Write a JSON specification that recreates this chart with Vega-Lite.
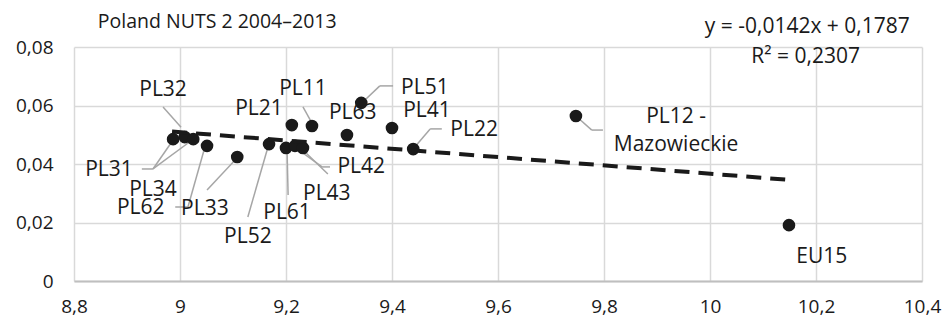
{
  "$schema": "https://vega.github.io/schema/vega-lite/v6.json",
  "width": 848,
  "height": 234,
  "autosize": {"type": "none"},
  "padding": {"left": 74, "top": 47, "right": 22, "bottom": 41},
  "background": "white",
  "datasets": {
    "points": [
      {"region": "PL31", "x": 8.987, "y": 0.0485},
      {"region": "PL32", "x": 9.009, "y": 0.0492},
      {"region": "PL34", "x": 9.025, "y": 0.0485},
      {"region": "PL62", "x": 9.051, "y": 0.0462},
      {"region": "PL33", "x": 9.108, "y": 0.0424},
      {"region": "PL52", "x": 9.168, "y": 0.0468},
      {"region": "PL21", "x": 9.211, "y": 0.0533},
      {"region": "PL11", "x": 9.249, "y": 0.053},
      {"region": "PL61", "x": 9.2, "y": 0.0455},
      {"region": "PL42", "x": 9.217, "y": 0.0462},
      {"region": "PL43", "x": 9.232, "y": 0.0455},
      {"region": "PL63", "x": 9.315, "y": 0.0499},
      {"region": "PL51", "x": 9.342, "y": 0.0609},
      {"region": "PL41", "x": 9.4, "y": 0.0523},
      {"region": "PL22", "x": 9.44, "y": 0.0451},
      {"region": "PL12", "x": 9.747, "y": 0.0564},
      {"region": "EU15", "x": 10.149, "y": 0.0191}
    ],
    "labels": [
      {"label": "PL32", "lx": 8.968, "ly": 0.0653},
      {"label": "PL31", "lx": 8.866, "ly": 0.0379},
      {"label": "PL34", "lx": 8.949, "ly": 0.0311},
      {"label": "PL62", "lx": 8.926, "ly": 0.025},
      {"label": "PL33", "lx": 9.047, "ly": 0.0246},
      {"label": "PL52", "lx": 9.128, "ly": 0.015},
      {"label": "PL61", "lx": 9.202, "ly": 0.0232},
      {"label": "PL43", "lx": 9.277, "ly": 0.0297},
      {"label": "PL42", "lx": 9.342, "ly": 0.039},
      {"label": "PL21", "lx": 9.149, "ly": 0.0588},
      {"label": "PL11", "lx": 9.232, "ly": 0.0656},
      {"label": "PL63", "lx": 9.326, "ly": 0.0574},
      {"label": "PL51", "lx": 9.462, "ly": 0.066},
      {"label": "PL41", "lx": 9.466, "ly": 0.0581},
      {"label": "PL22", "lx": 9.555, "ly": 0.0516},
      {"label": "PL12 -", "lx": 9.936, "ly": 0.0561},
      {"label": "Mazowieckie", "lx": 9.936, "ly": 0.0465},
      {"label": "EU15", "lx": 10.211, "ly": 0.0082}
    ],
    "leaders": [
      {"x": 8.968, "y": 0.0595, "x2": 9.002, "y2": 0.0526},
      {"x": 8.928, "y": 0.0383, "x2": 8.949, "y2": 0.0383},
      {"x": 8.949, "y": 0.0383, "x2": 8.987, "y2": 0.0482},
      {"x": 8.949, "y": 0.0383, "x2": 9.023, "y2": 0.0482},
      {"x": 8.991, "y": 0.0253, "x2": 9.015, "y2": 0.0253},
      {"x": 9.015, "y": 0.0253, "x2": 9.047, "y2": 0.0458},
      {"x": 9.051, "y": 0.0311, "x2": 9.104, "y2": 0.0414},
      {"x": 9.128, "y": 0.0219, "x2": 9.166, "y2": 0.0458},
      {"x": 9.204, "y": 0.0294, "x2": 9.202, "y2": 0.0448},
      {"x": 9.279, "y": 0.0366, "x2": 9.232, "y2": 0.0448},
      {"x": 9.268, "y": 0.039, "x2": 9.283, "y2": 0.039},
      {"x": 9.268, "y": 0.039, "x2": 9.211, "y2": 0.0465},
      {"x": 9.232, "y": 0.0595, "x2": 9.249, "y2": 0.054},
      {"x": 9.377, "y": 0.0667, "x2": 9.402, "y2": 0.0667},
      {"x": 9.377, "y": 0.0667, "x2": 9.345, "y2": 0.0612},
      {"x": 9.472, "y": 0.052, "x2": 9.494, "y2": 0.052},
      {"x": 9.472, "y": 0.052, "x2": 9.443, "y2": 0.0458},
      {"x": 9.747, "y": 0.0564, "x2": 9.777, "y2": 0.0516},
      {"x": 9.777, "y": 0.0516, "x2": 9.798, "y2": 0.0516}
    ],
    "trend": [
      {"x": 8.985, "y": 0.0511},
      {"x": 10.147, "y": 0.0346}
    ],
    "notes": [
      {"text": "y = -0,0142x + 0,1787", "nx": 10.377, "ny": 0.0868},
      {"text": "R² = 0,2307", "nx": 10.283, "ny": 0.0766}
    ],
    "heading": [
      {"text": "Poland NUTS 2 2004–2013", "nx": 8.845, "ny": 0.0886}
    ]
  },
  "config": {
    "view": {"stroke": null},
    "font": "Open Sans",
    "axis": {
      "grid": true,
      "gridColor": "#d9d9d9",
      "gridWidth": 1.5,
      "ticks": false,
      "labelFont": "Open Sans",
      "labelFontSize": 19,
      "labelColor": "#1a1a1a",
      "labelFlush": false,
      "title": null
    }
  },
  "encoding": {
    "x": {
      "type": "quantitative",
      "scale": {"domain": [8.8, 10.4], "nice": false, "zero": false},
      "axis": {
        "values": [8.8, 9, 9.2, 9.4, 9.6, 9.8, 10, 10.2, 10.4],
        "labelExpr": "replace(format(datum.value, '~g'), '.', ',')",
        "labelPadding": 16,
        "domain": true,
        "domainColor": "#bfbfbf",
        "domainWidth": 2,
        "title": null
      }
    },
    "y": {
      "type": "quantitative",
      "scale": {"domain": [0, 0.08], "nice": false},
      "axis": {
        "values": [0, 0.02, 0.04, 0.06, 0.08],
        "labelExpr": "replace(format(datum.value, '~g'), '.', ',')",
        "labelPadding": 21,
        "domain": false,
        "title": null
      }
    }
  },
  "layer": [
    {
      "data": {"name": "leaders"},
      "mark": {"type": "rule", "color": "#a6a6a6", "strokeWidth": 1.5},
      "encoding": {
        "x": {"field": "x", "type": "quantitative"},
        "y": {"field": "y", "type": "quantitative"},
        "x2": {"field": "x2"},
        "y2": {"field": "y2"}
      }
    },
    {
      "data": {"name": "points"},
      "mark": {"type": "point", "filled": true, "size": 160, "color": "#1a1a1a", "opacity": 1},
      "encoding": {
        "x": {"field": "x", "type": "quantitative"},
        "y": {"field": "y", "type": "quantitative"}
      }
    },
    {
      "data": {"name": "trend"},
      "mark": {"type": "line", "color": "#1a1a1a", "strokeWidth": 4, "strokeDash": [15, 9]},
      "encoding": {
        "x": {"field": "x", "type": "quantitative"},
        "y": {"field": "y", "type": "quantitative"}
      }
    },
    {
      "data": {"name": "labels"},
      "mark": {"type": "text", "font": "Open Sans", "fontSize": 21, "color": "#1a1a1a", "baseline": "middle", "align": "center"},
      "encoding": {
        "x": {"field": "lx", "type": "quantitative"},
        "y": {"field": "ly", "type": "quantitative"},
        "text": {"field": "label"}
      }
    },
    {
      "data": {"name": "notes"},
      "mark": {"type": "text", "font": "Open Sans", "fontSize": 21, "color": "#1a1a1a", "baseline": "middle", "align": "right", "clip": false},
      "encoding": {
        "x": {"field": "nx", "type": "quantitative"},
        "y": {"field": "ny", "type": "quantitative"},
        "text": {"field": "text"}
      }
    },
    {
      "data": {"name": "heading"},
      "mark": {"type": "text", "font": "Open Sans", "fontSize": 19.5, "color": "#1a1a1a", "baseline": "middle", "align": "left", "clip": false},
      "encoding": {
        "x": {"field": "nx", "type": "quantitative"},
        "y": {"field": "ny", "type": "quantitative"},
        "text": {"field": "text"}
      }
    }
  ]
}
